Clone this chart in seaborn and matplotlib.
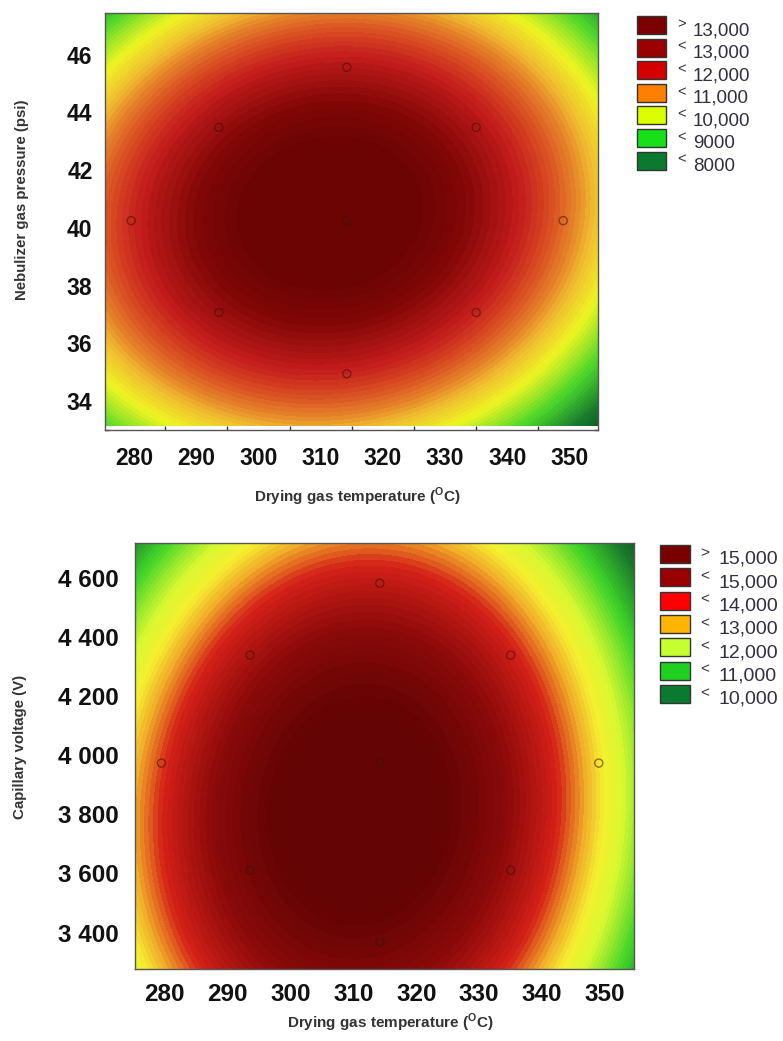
import numpy as np
import matplotlib
matplotlib.use("Agg")
import matplotlib.pyplot as plt
from matplotlib.colors import LinearSegmentedColormap
from matplotlib.patches import Rectangle
import seaborn as sns
import pandas as pd

# ---------------- data ----------------
# Axis windows
temp_range = [275.3, 354.6]
pressure_range = [33.14, 47.44]
voltage_range = [3277, 4717]

temp_ticks = [280, 290, 300, 310, 320, 330, 340, 350]
pressure_ticks = [34, 36, 38, 40, 42, 44, 46]
voltage_ticks = [3400, 3600, 3800, 4000, 4200, 4400, 4600]

# Central composite design points (drying gas temperature vs. second factor)
design_temp = [279.5, 293.6, 293.6, 314.2, 314.2, 314.2, 335.0, 335.0, 349.0]
design_pressure = [40.25, 43.48, 37.07, 45.56, 40.25, 34.95, 43.48, 37.07, 40.25]
design_voltage = [3973, 4338, 3611, 4581, 3973, 3368, 4338, 3611, 3973]

# Fitted quadratic response surfaces: peak, optimum, curvatures, interaction
pressure_peak = 13450
pressure_opt = [311.5, 40.5]
pressure_curv = [1.58, 49.8]
pressure_inter = 1.2

voltage_peak = 15650
voltage_opt = [311.0, 3811]
voltage_curv = [2.10, 0.0030]
voltage_inter = 0.008

# Legend classes
legend_top_signs = [">", "<", "<", "<", "<", "<", "<"]
legend_top_values = ["13,000", "13,000", "12,000", "11,000", "10,000", "9000", "8000"]
legend_top_colors = ["#7a0000", "#9a0000", "#d40000", "#ff8000", "#dcff00", "#18e018", "#0a7a30"]

legend_bot_signs = [">", "<", "<", "<", "<", "<", "<"]
legend_bot_values = ["15,000", "15,000", "14,000", "13,000", "12,000", "11,000", "10,000"]
legend_bot_colors = ["#7a0000", "#9a0000", "#ff0000", "#ffb400", "#c6ff30", "#1fd01f", "#0a7a30"]

# Colour anchors of the filled-contour scale
top_anchor_vals = [7300, 8000, 9000, 10000, 10600, 11000, 11500, 12000, 12350, 12750, 13150]
top_anchor_cols = ["#0b5a22", "#1a7a2c", "#4ad62a", "#eef522", "#f0c030", "#e6862a",
                   "#d84a22", "#c41c1c", "#a41212", "#820606", "#6c0404"]
bot_anchor_vals = [9300, 10000, 11000, 12000, 12500, 13000, 13600, 14500, 15300]
bot_anchor_cols = ["#0b5a22", "#1a7a2c", "#40d428", "#d8f830", "#f5f030", "#f0a828",
                   "#d42018", "#8e0a0a", "#640404"]


def surface(x, y, peak, opt, curv, inter):
    dx = x - opt[0]
    dy = y - opt[1]
    return peak - curv[0] * dx ** 2 - curv[1] * dy ** 2 + inter * dx * dy


def make_cmap(vals, cols):
    v = np.asarray(vals, float)
    pos = (v - v[0]) / (v[-1] - v[0])
    return LinearSegmentedColormap.from_list("rsm", list(zip(pos, cols))), v[0], v[-1]


sns.set_theme(style="white")
plt.rcParams["font.family"] = ["Liberation Sans", "DejaVu Sans"]
plt.rcParams["mathtext.fontset"] = "custom"
plt.rcParams["mathtext.rm"] = "Liberation Sans"
plt.rcParams["mathtext.bf"] = "Liberation Sans:bold"

fig = plt.figure(figsize=(7.83, 10.41), dpi=100)
W, H = 783.0, 1041.0


def ax_rect(l, t, r, b):
    return [l / W, 1 - b / H, (r - l) / W, (b - t) / H]


def draw_panel(ax, yr, yticks, ydesign, peak, opt, curv, inter, anchors_v, anchors_c,
               yfmt, tick_fs, xpad, ypad):
    xs = np.linspace(temp_range[0], temp_range[1], 400)
    ys = np.linspace(yr[0], yr[1], 400)
    X, Y = np.meshgrid(xs, ys)
    Z = surface(X, Y, peak, opt, curv, inter)
    cmap, vmin, vmax = make_cmap(anchors_v, anchors_c)
    levels = np.arange(vmin - 2000, vmax + 600, 100)
    ax.contourf(X, Y, Z, levels=levels, cmap=cmap, vmin=vmin, vmax=vmax, extend="both")
    pts = pd.DataFrame({"t": design_temp, "v": ydesign})
    sns.scatterplot(data=pts, x="t", y="v", ax=ax, s=34, marker="o",
                    facecolor="none", edgecolor="#3a1208", linewidth=1.0, alpha=0.55,
                    zorder=5)
    ax.set_xlim(temp_range)
    ax.set_ylim(yr)
    ax.set_xticks(temp_ticks)
    ax.set_xticklabels([str(t) for t in temp_ticks])
    ax.set_yticks(yticks)
    ax.set_yticklabels([yfmt(v) for v in yticks])
    ax.set_xticks([t + 5 for t in temp_ticks[:-1]], minor=True)
    step = yticks[1] - yticks[0]
    ax.set_yticks([v - step / 2 for v in yticks] + [yticks[-1] + step / 2], minor=True)
    ax.tick_params(which="major", length=0, labelsize=tick_fs, colors="#111111")
    ax.tick_params(axis="x", which="major", pad=xpad)
    ax.tick_params(axis="y", which="major", pad=ypad)
    ax.tick_params(which="minor", direction="in", length=3, width=1, color="#333333",
                   top=True, right=True, bottom=True, left=True)
    for lab in ax.get_xticklabels() + ax.get_yticklabels():
        lab.set_fontweight("bold")
    for sp in ax.spines.values():
        sp.set_color("#555555")
        sp.set_linewidth(1.0)
    ax.set_xlabel("")
    ax.set_ylabel("")


xlabel_text = r"Drying gas temperature ($^{\mathbf{O}}$C)"

# ---- upper panel: nebulizer gas pressure ----
ax1 = fig.add_axes(ax_rect(105, 13, 598, 430))
draw_panel(ax1, pressure_range, pressure_ticks, design_pressure, pressure_peak,
           pressure_opt, pressure_curv, pressure_inter, top_anchor_vals, top_anchor_cols,
           lambda v: f"{v:d}", 16.5, 12, 9)
fig.text(357 / W, 1 - 497 / H, xlabel_text,
         ha="center", va="center", fontsize=11, fontweight="bold", color="#333333")
fig.text(22 / W, 1 - 200 / H, "Nebulizer gas pressure (psi)", rotation=90,
         ha="center", va="center", fontsize=10.8, fontweight="bold", color="#333333")

# ---- lower panel: capillary voltage ----
ax2 = fig.add_axes(ax_rect(135, 543, 634, 969))
draw_panel(ax2, voltage_range, voltage_ticks, design_voltage, voltage_peak,
           voltage_opt, voltage_curv, voltage_inter, bot_anchor_vals, bot_anchor_cols,
           lambda v: f"{v:,d}".replace(",", " "), 17.5, 10, 12)
fig.text(390 / W, 1 - 1023 / H, xlabel_text,
         ha="center", va="center", fontsize=11, fontweight="bold", color="#333333")
fig.text(20 / W, 1 - 747 / H, "Capillary voltage (V)", rotation=90,
         ha="center", va="center", fontsize=10.8, fontweight="bold", color="#333333")


# ---- legends ----
def draw_legend(x0, y0, pitch, bw, bh, signs, values, colors, sign_dx, num_dx, fs):
    for i, (sg, val, col) in enumerate(zip(signs, values, colors)):
        top = y0 + i * pitch
        fig.patches.append(Rectangle((x0 / W, 1 - (top + bh) / H), bw / W, bh / H,
                                     transform=fig.transFigure, facecolor=col,
                                     edgecolor="#333333", linewidth=1.0))
        fig.text((x0 + sign_dx) / W, 1 - (top + 1) / H, sg, ha="left", va="top",
                 fontsize=fs - 3, color="#303040")
        fig.text((x0 + num_dx) / W, 1 - (top + bh + 1) / H, val, ha="left",
                 va="baseline", fontsize=fs, color="#303040")


draw_legend(637, 16, 22.6, 29, 18, legend_top_signs, legend_top_values, legend_top_colors,
            40, 56, 13.5)
draw_legend(660, 545, 23.3, 30, 18, legend_bot_signs, legend_bot_values, legend_bot_colors,
            40, 58, 14)

fig.savefig("out.png", dpi=100, facecolor="white")
